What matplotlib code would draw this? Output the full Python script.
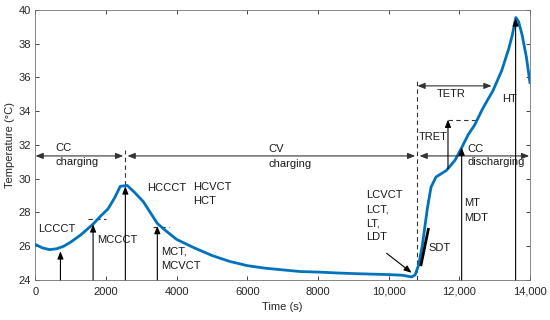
import matplotlib.pyplot as plt
import numpy as np

# temperature curve
time_s = [0, 200, 400, 600, 800, 1000, 1300, 1650, 1850, 2050, 2250, 2400, 2600,
          2800, 3050, 3250, 3450, 3700, 4000, 4500, 5000, 5500, 6000, 6500, 7000,
          7500, 8000, 8500, 9000, 9500, 10000, 10400, 10650, 10750, 10850, 10950,
          11100, 11200, 11340, 11640, 11880, 12070, 12250, 12440, 12650, 12810,
          12950, 13200, 13400, 13500, 13600, 13680, 13780, 13900, 14000]
temp_c = [26.1, 25.9, 25.8, 25.85, 26.0, 26.25, 26.7, 27.35, 27.8, 28.2, 28.9, 29.55, 29.6,
          29.2, 28.65, 28.0, 27.35, 26.9, 26.4, 25.9, 25.45, 25.1, 24.85, 24.7, 24.6,
          24.5, 24.47, 24.42, 24.38, 24.35, 24.32, 24.28, 24.18, 24.3, 24.9, 26.0,
          28.3, 29.5, 30.1, 30.5, 31.1, 31.85, 32.6, 33.2, 34.1, 34.7,
          35.2, 36.4, 37.7, 38.5, 39.55, 39.3, 38.5, 37.2, 35.7]

xticks = [0, 2000, 4000, 6000, 8000, 10000, 12000, 14000]
xtick_labels = ['0', '2000', '4000', '6000', '8000', '10,000', '12,000', '14,000']
yticks = [24, 26, 28, 30, 32, 34, 36, 38, 40]

# phase boundaries
t_cv_start = 2545
t_dis_start = 10813
phase_y = 31.35

# vertical up-arrows: (time, base, tip)
up_arrows = [(707, 24, 25.7), (1631, 24, 27.3), (2545, 24, 29.55),
             (3450, 24, 27.2), (12067, 24, 31.85), (13595, 24, 39.5),
             (11680, 30.6, 33.5)]

fs = 8
plt.rcParams['font.family'] = ['Liberation Sans', 'DejaVu Sans']

fig = plt.figure(figsize=(5.5, 3.2), dpi=100)
ax = fig.add_axes([0.0645, 0.125, 0.899, 0.844])

ax.plot(time_s, temp_c, color='#0072BD', lw=2, zorder=3)

ax.set_xlim(0, 14000)
ax.set_ylim(24, 40)
ax.set_xticks(xticks)
ax.set_xticklabels(xtick_labels)
ax.set_yticks(yticks)
ax.tick_params(direction='in', top=True, right=True, labelsize=fs,
               length=3, width=0.6, colors='0.15')
ax.tick_params(axis='x', pad=5)
for s in ax.spines.values():
    s.set_color('0.45')
    s.set_linewidth(0.6)
ax.set_xlabel('Time (s)', fontsize=fs, color='0.15', labelpad=4)
ax.set_ylabel('Temperature (°C)', fontsize=fs, color='0.15', labelpad=2)

head = dict(arrowstyle='-|>,head_length=0.45,head_width=0.18', color='k',
            lw=0.8, shrinkA=0, shrinkB=0)
both = dict(arrowstyle='<|-|>,head_length=0.45,head_width=0.18', color='0.2',
            lw=0.8, shrinkA=0, shrinkB=0)

for t, y0, y1 in up_arrows:
    ax.annotate('', xy=(t, y1), xytext=(t, y0), arrowprops=head, zorder=4)

# phase arrows
ax.annotate('', xy=(t_cv_start - 60, phase_y), xytext=(0, phase_y), arrowprops=both)
ax.annotate('', xy=(t_dis_start - 60, phase_y), xytext=(t_cv_start + 60, phase_y), arrowprops=both)
ax.annotate('', xy=(13980, phase_y), xytext=(t_dis_start + 60, phase_y), arrowprops=both)
ax.annotate('', xy=(12915, 35.5), xytext=(t_dis_start, 35.5), arrowprops=both)

# dashed guides
dash = dict(ls=(0, (4, 3)), color='0.2', lw=0.8)
ax.plot([t_cv_start, t_cv_start], [29.6, 31.7], **dash)
ax.plot([t_dis_start, t_dis_start], [24, 35.8], **dash)
ax.plot([1480, 2000], [27.6, 27.6], **dash)
ax.plot([3330, 3770], [27.15, 27.15], **dash)
ax.plot([11680, 12490], [33.5, 33.5], **dash)

# SDT slope
ax.plot([10917, 11123], [24.9, 27.0], color='k', lw=2, zorder=4)

# LCVCT pointer
ax.annotate('', xy=(10650, 24.43), xytext=(9944, 25.58), arrowprops=head)

labels = [
    (566, 31.8, 'CC'), (566, 31.0, 'charging'),
    (6590, 31.75, 'CV'), (6590, 30.9, 'charging'),
    (12237, 31.75, 'CC'), (12245, 31.0, 'discharging'),
    (11360, 35.0, 'TETR'), (13200, 34.7, 'HT'), (10860, 32.45, 'TRET'),
    (3160, 29.45, 'HCCCT'), (4460, 29.5, 'HCVCT'), (4460, 28.7, 'HCT'),
    (75, 27.0, 'LCCCT'), (1745, 26.37, 'MCCCT'),
    (3555, 25.67, 'MCT,'), (3555, 24.83, 'MCVCT'),
    (9350, 29.03, 'LCVCT'), (9350, 28.2, 'LCT,'), (9350, 27.37, 'LT,'),
    (9350, 26.56, 'LDT'),
    (11120, 25.9, 'SDT'), (12140, 28.55, 'MT'), (12140, 27.7, 'MDT'),
]
for x, y, s in labels:
    ax.text(x, y, s, fontsize=fs, ha='left', va='center', color='0.1', zorder=5)

plt.savefig('out.png', dpi=100)
